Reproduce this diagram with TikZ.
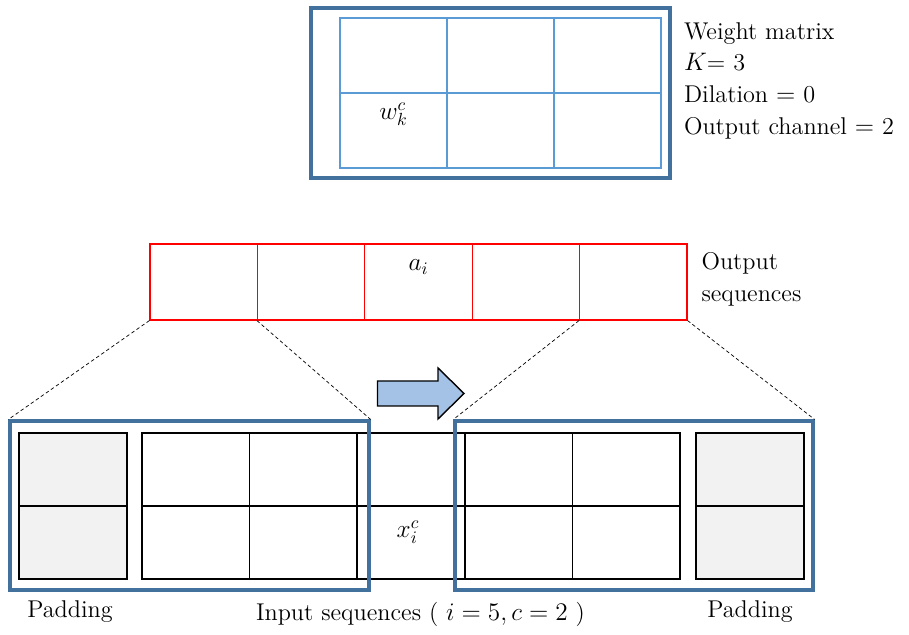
\documentclass[tikz,border=0pt]{standalone}
\usetikzlibrary{arrows.meta,calc}
\definecolor{boxblue}{RGB}{65,113,156}
\definecolor{gridblue}{RGB}{91,155,213}
\definecolor{arrowblue}{RGB}{164,194,230}
\definecolor{padgray}{RGB}{242,242,242}

\begin{document}
\begin{tikzpicture}[line width=0.8pt,>=Stealth,font=\fontsize{13.8}{18}\selectfont]
\tikzset{window/.style={draw=boxblue,line width=1.8pt,inner sep=0pt},
  wcell/.style={draw=gridblue,line width=0.6pt,minimum width=2.14cm,minimum height=1.50cm,inner sep=0pt},
  outcell/.style={draw=red,line width=0.6pt,minimum width=2.148cm,minimum height=1.52cm,inner sep=0pt},
  incell/.style={draw=black,line width=0.8pt,minimum width=2.152cm,minimum height=1.46cm,inner sep=0pt},
  padcell/.style={incell,fill=padgray,minimum width=2.16cm},
  zoomline/.style={line width=0.4pt,dash pattern=on 2pt off 1.5pt}}
\useasboundingbox (0,0) rectangle (18.18,12.70);
% ---------- weight matrix, K=3 columns, 2 channels ----------
\node[window,minimum width=7.18cm,minimum height=3.40cm] (wbox) at (9.81,10.84) {};
\foreach \c [count=\i] in {7.87,10.01,12.15} {
  \node[wcell] (w\i1) at (\c,11.59) {};
  \node[wcell] (w\i2) at (\c,10.09) {};
}
\node (wkc) at (7.87,10.42) {$w_k^c$};
\node[anchor=west,align=left] (wtext) at (13.55,11.09)
  {Weight matrix\\$K$= 3\\Dilation $=$ 0\\Output channel $=$ 2};
% ---------- output sequence, five red cells ----------
\foreach \i in {1,...,5}
  \node[outcell] (o\i) at ({1.926+2.148*\i},7.06) {};
\node (ai) at (8.37,7.36) {$a_i$};
\node[anchor=west,align=left] (otext) at (13.90,7.11) {Output\\sequences};
% ---------- input sequence with padding on both ends ----------
\node[padcell] (pl1) at (1.46,3.31) {};
\node[padcell] (pl2) at (1.46,1.85) {};
\foreach \i in {1,...,5} {
  \node[incell] (x\i1) at ({1.764+2.152*\i},3.31) {};
  \node[incell] (x\i2) at ({1.764+2.152*\i},1.85) {};
}
\node[padcell] (pr1) at (15.00,3.31) {};
\node[padcell] (pr2) at (15.00,1.85) {};
\node (xic) at (8.16,2.06) {$x_i^c$};
% sliding windows (kernel receptive field)
\node[window,minimum width=7.18cm,minimum height=3.38cm] (winL) at (3.79,2.59) {};
\node[window,minimum width=7.16cm,minimum height=3.38cm] (winR) at (12.68,2.59) {};
\draw[zoomline] (o1.south west) -- (winL.north west);
\draw[zoomline] (o2.south west) -- (winL.north east);
\draw[zoomline] (o5.south west) -- (winR.north west);
\draw[zoomline] (o5.south east) -- (winR.north east);
% block arrow: window slides right
\draw[line width=0.8pt,fill=arrowblue] (7.55,5.08) -- (8.76,5.08) -- (8.76,5.34)
  -- (9.28,4.83) -- (8.76,4.32) -- (8.76,4.58) -- (7.55,4.58) -- cycle;
% ---------- labels ----------
\node (padl) at (1.40,0.46) {Padding};
\node (insq) at (8.41,0.42) {Input sequences ( $i=5,c=2$ )};
\node (padr) at (15.00,0.46) {Padding};
\end{tikzpicture}
\end{document}
